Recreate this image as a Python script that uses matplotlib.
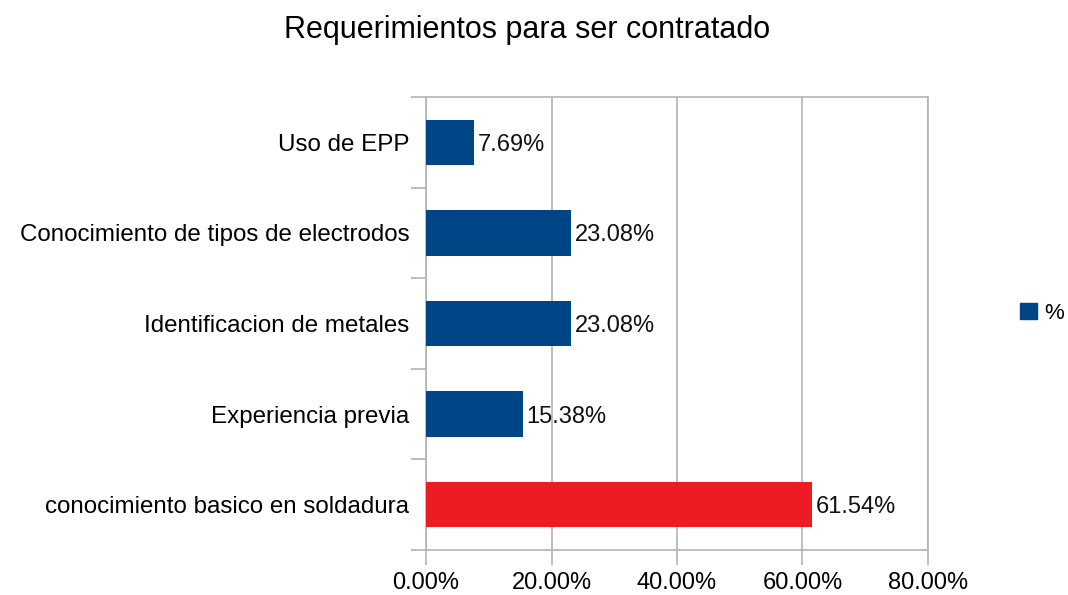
import matplotlib.pyplot as plt
from matplotlib.patches import Patch

plt.rcParams['font.family'] = ['Liberation Sans', 'DejaVu Sans']

categorias = ['conocimiento basico en soldadura', 'Experiencia previa',
              'Identificacion de metales', 'Conocimiento de tipos de electrodos',
              'Uso de EPP']
valores = [61.54, 15.38, 23.08, 23.08, 7.69]
colores = ['#ED1C24', '#004586', '#004586', '#004586', '#004586']
ticks_x = [0, 20, 40, 60, 80]

fig = plt.figure(figsize=(10.68, 5.95), dpi=100)
ax = fig.add_axes([0.3989, 0.0756, 0.47, 0.7614])

y = range(len(categorias))
bars = ax.barh(y, valores, height=0.5, color=colores, zorder=3)
for b, v in zip(bars, valores):
    ax.text(b.get_width() + 0.6, b.get_y() + b.get_height() / 2, f'{v:.2f}%',
            va='center_baseline', ha='left', fontsize=17, color='#111111', zorder=4)

ax.set_xlim(0, 80)
ax.set_ylim(-0.5, len(categorias) - 0.5)
ax.set_xticks(ticks_x)
ax.set_xticklabels([f'{t:.2f}%' for t in ticks_x], fontsize=17)
ax.set_yticks(list(y))
ax.set_yticklabels(categorias, fontsize=17.4)
ax.set_yticks([i - 0.5 for i in range(len(categorias) + 1)], minor=True)
ax.tick_params(axis='y', which='major', length=0, pad=12)
ax.tick_params(axis='y', which='minor', length=11, color='#b3b3b3', width=1.2)
ax.tick_params(axis='x', length=11, color='#b3b3b3', width=1.2, pad=5)
ax.grid(axis='x', color='#b3b3b3', linewidth=1.2, zorder=0)
for s in ax.spines.values():
    s.set_color('#b3b3b3')
    s.set_linewidth(1.2)

fig.suptitle('Requerimientos para ser contratado', fontsize=22, x=0.4935, y=0.975)
fig.legend(handles=[Patch(color='#004586', label='%')], loc='center left',
           bbox_to_anchor=(0.955, 0.473), frameon=False, fontsize=16,
           handlelength=0.75, handleheight=0.75, handletextpad=0.35,
           borderpad=0, borderaxespad=0)

fig.savefig('out.png', dpi=100)
